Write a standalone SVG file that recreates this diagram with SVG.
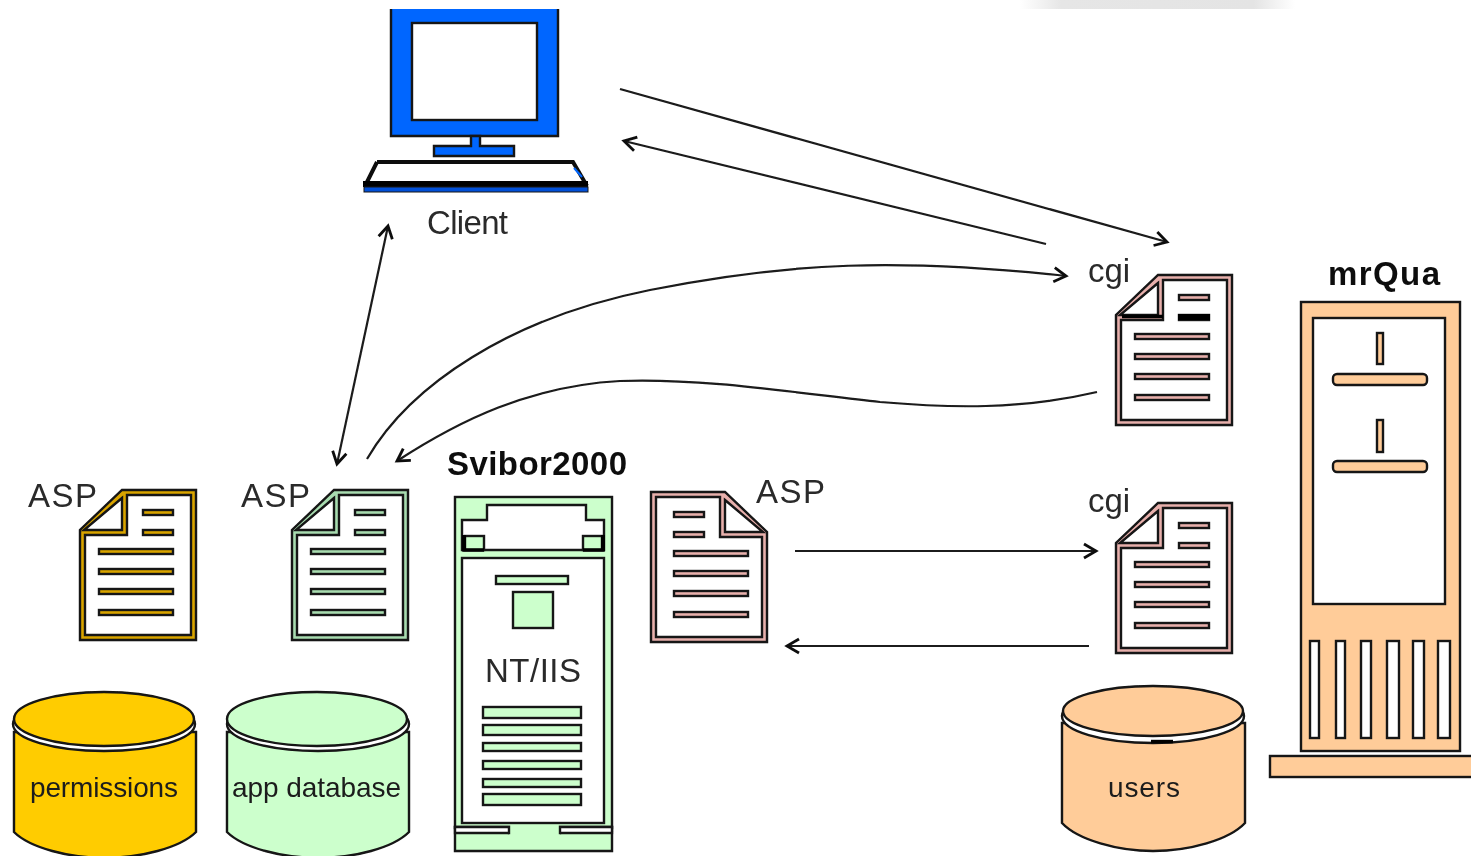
<svg xmlns="http://www.w3.org/2000/svg" width="1471" height="856" viewBox="0 0 1471 856">
<style>
.o{stroke:#141414;stroke-width:2.4}
.w{fill:#fff}
.t{font-family:"Liberation Sans",Arial,sans-serif;fill:#2a2a2a}
.b{font-weight:bold;fill:#111}
.l{font-size:33px}
.m{font-size:28px;fill:#1c1c1c}
.c{fill:none;stroke:#1a1a1a;stroke-width:2.2}
.y{fill:#ffcc00}
.g{fill:#ccffcc}
.p{fill:#ffcc99}
.pk{color:#e8b0ac}
.k{fill:none;stroke:#000;stroke-width:3.4}
</style>
<defs>
<filter id="soft" x="-2%" y="-2%" width="104%" height="104%"><feGaussianBlur stdDeviation="0.55"/></filter>
<linearGradient id="sm"><stop offset="0" stop-color="#fff"/><stop offset="0.15" stop-color="#e6e6e6"/><stop offset="0.85" stop-color="#e4e4e4"/><stop offset="1" stop-color="#fff"/></linearGradient>
<marker id="head" markerUnits="userSpaceOnUse" markerWidth="20" markerHeight="20" refX="16" refY="10" orient="auto">
<path d="M4,3 L16,10 L4,17" fill="none" stroke="#111" stroke-width="2.8"/>
</marker>
<marker id="headStart" markerUnits="userSpaceOnUse" markerWidth="20" markerHeight="20" refX="4" refY="10" orient="auto">
<path d="M16,3 L4,10 L16,17" fill="none" stroke="#111" stroke-width="2.8"/>
</marker>
<g id="doc">
<path d="M43,1 H117 V151 H1 V41 Z" fill="currentColor" class="o"/>
<path d="M48,6 H112 V146 H6 V46 H48 Z" class="w o"/>
<path d="M43,9 L5,41 H43 Z" class="w o"/>
<g fill="currentColor" class="o">
<rect x="64" y="21" width="30" height="5"/>
<rect x="64" y="41" width="30" height="5"/>
<rect x="20" y="60" width="74" height="5"/>
<rect x="20" y="80" width="74" height="5"/>
<rect x="20" y="100" width="74" height="5"/>
<rect x="20" y="121" width="74" height="5"/>
</g>
</g>
</defs>
<rect width="1471" height="856" fill="#fff"/>
<rect x="1020" y="0" width="275" height="9" fill="url(#sm)"/>
<g filter="url(#soft)">
<g id="connectors">
<path class="c" d="M620,89 L1167,242" marker-end="url(#head)"/>
<path class="c" d="M1046,244 L624,141" marker-end="url(#head)"/>
<path class="c" d="M337,464 L388,226" marker-start="url(#headStart)" marker-end="url(#head)"/>
<path class="c" d="M367,459 C410,385 510,318 650,290 C790,262 900,258 1066,276" marker-end="url(#head)"/>
<path class="c" d="M1097,392 C1020,410 950,408 880,402 C790,392 700,378 620,381 C530,386 460,420 397,461" marker-end="url(#head)"/>
<path class="c" d="M795,551 H1096" marker-end="url(#head)"/>
<path class="c" d="M1089,646 H787" marker-end="url(#head)"/>
</g>
<g id="client">
<path d="M391,9 V136 H558 V9" fill="#0066ff" class="o"/>
<rect x="412" y="23" width="125" height="97" class="w o"/>
<path d="M471,136 V146 H434 V156 H514 V146 H480 V136 Z" fill="#0066ff" class="o"/>
<path d="M377,162 H573 L587,186 H365 Z" class="w"/>
<path d="M377,162 H573 L587,186 M365,186 L377,162" fill="none" stroke="#111" stroke-width="4"/>
<path d="M574,168 L582,177" fill="none" stroke="#0066ff" stroke-width="2"/>
<rect x="363" y="181" width="225" height="6" fill="#000"/>
<rect x="364" y="187" width="224" height="5" fill="#0050d8" stroke="#111" stroke-width="1"/>
<text class="t l" x="427" y="234" textLength="81">Client</text>
</g>
<g id="asp-permissions" style="color:#d9a400">
<use href="#doc" x="79" y="489"/>
<text class="t l" x="28" y="507" textLength="69">ASP</text>
</g>
<g id="asp-app" style="color:#a8dcb0">
<use href="#doc" x="291" y="489"/>
<text class="t l" x="241" y="507" textLength="69">ASP</text>
</g>
<g id="asp-server" class="pk">
<use href="#doc" transform="translate(768,491) scale(-1,1)"/>
<text class="t l" x="756" y="503" textLength="69">ASP</text>
</g>
<g id="cgi-top" class="pk">
<use href="#doc" x="1115" y="274"/>
<path d="M1122,316.500 H1163" class="k"/>
<rect x="1178" y="314" width="32" height="6" fill="#000"/>
<text class="t l" x="1088" y="282" textLength="42">cgi</text>
</g>
<g id="cgi-bottom" class="pk">
<use href="#doc" x="1115" y="502"/>
<text class="t l" x="1088" y="512" textLength="42">cgi</text>
</g>
<g id="db-permissions">
<path d="M14,732 V832 C30,848 70,858 104,858 C140,858 180,848 196,832 V732 Z" class="y o"/>
<ellipse cx="104" cy="724" rx="91" ry="27" class="w o"/>
<ellipse cx="104" cy="719" rx="90" ry="27" class="y o"/>
<text class="t m" x="30" y="797" textLength="148">permissions</text>
</g>
<g id="db-app">
<path d="M227,732 V832 C243,848 283,858 318,858 C354,858 393,848 409,832 V732 Z" class="g o"/>
<ellipse cx="318" cy="724" rx="91" ry="27" class="w o"/>
<ellipse cx="317" cy="719" rx="90" ry="27" class="g o"/>
<text class="t m" x="232" y="797" textLength="169">app database</text>
</g>
<g id="db-users">
<path d="M1062,723 V823 C1078,840 1118,851 1153,851 C1189,851 1229,840 1245,823 V723 Z" class="p o"/>
<ellipse cx="1153" cy="716" rx="91" ry="27" class="w o"/>
<ellipse cx="1153" cy="711" rx="90" ry="25" class="p o"/>
<path d="M1151,741.500 H1173" class="k"/>
<text class="t m" x="1108" y="797" textLength="72">users</text>
</g>
<g id="server">
<rect x="455" y="497" width="157" height="331" class="g o"/>
<rect x="462" y="558" width="142" height="265" class="w o"/>
<path d="M487,505 H586 V520 H604 V550 H462 V520 H487 Z" class="w o"/>
<rect x="465" y="536" width="19" height="14" class="g o"/>
<rect x="583" y="536" width="19" height="14" class="g o"/>
<path d="M464,535 V550 H484 M583,550 H603 V535" class="k"/>
<rect x="496" y="576" width="72" height="8" class="g o"/>
<rect x="513" y="592" width="40" height="36" class="g o"/>
<text class="t l" x="485" y="682" textLength="96">NT/IIS</text>
<g class="g o">
<rect x="483" y="707" width="98" height="11"/>
<rect x="483" y="725" width="98" height="10"/>
<rect x="483" y="743" width="98" height="8"/>
<rect x="483" y="761" width="98" height="8"/>
<rect x="483" y="779" width="98" height="8"/>
<rect x="483" y="794" width="98" height="11"/>
</g>
<path d="M455,827 H509 V833 H560 V827 H612 V851 H455 Z" class="g o"/>
<rect x="509" y="826" width="51" height="9" class="g"/>
<path d="M455,827 H509 V833 H455 Z M560,827 H612 V833 H560 Z" class="w o"/>
<text class="t b l" x="447" y="475" textLength="180">Svibor2000</text>
</g>
<g id="mrqua">
<rect x="1301" y="302" width="159" height="449" class="p o"/>
<rect x="1313" y="318" width="132" height="286" class="w o"/>
<g class="p o">
<rect x="1377" y="333" width="6" height="31"/>
<rect x="1333" y="374" width="94" height="11" rx="4"/>
<rect x="1377" y="420" width="6" height="32"/>
<rect x="1333" y="461" width="94" height="11" rx="4"/>
</g>
<g class="w o">
<rect x="1310" y="641" width="9" height="97"/>
<rect x="1336" y="641" width="9" height="97"/>
<rect x="1361" y="641" width="10" height="97"/>
<rect x="1387" y="641" width="12" height="97"/>
<rect x="1413" y="641" width="11" height="97"/>
<rect x="1438" y="641" width="12" height="97"/>
</g>
<rect x="1270" y="756" width="210" height="21" class="p o"/>
<text class="t b l" x="1328" y="285" textLength="112">mrQua</text>
</g>
</g>
</svg>
